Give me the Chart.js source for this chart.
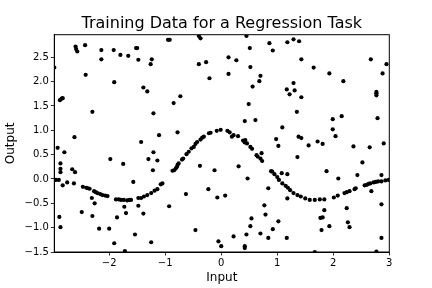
<!DOCTYPE html>
<html>
<head>
<meta charset="utf-8">
<script src="https://cdn.jsdelivr.net/npm/chart.js@4/dist/chart.umd.min.js"></script>
<style>
  html, body { margin: 0; padding: 0; background: #fff; }
  canvas { display: block; }
</style>
</head>
<body>
<canvas id="regression-scatter" width="432" height="288"></canvas>
<script>
// training samples: points that follow the curve, then the scattered noise
const curveX = [-2.95, -2.90, -2.47, -2.41, -2.38, -2.35, -2.27, -2.24, -2.21, -2.16, -2.12, -2.07, -2.03,
  -1.88, -1.83, -1.79, -1.74, -1.68, -1.64, -1.61, -1.48, -1.43, -1.38, -1.32, -1.25, -1.19, -1.14, -1.08, -1.05,
  -0.87, -0.84, -0.81, -0.79, -0.78, -0.76, -0.70, -0.68, -0.62, -0.58, -0.53, -0.49, -0.46, -0.43, -0.37, -0.34,
  -0.31, -0.22, -0.19, -0.08, -0.01, 0.11, 0.15, 0.19, 0.22, 0.30, 0.39, 0.42, 0.43, 0.46, 0.52, 0.55, 0.63,
  0.65, 0.70, 0.73, 0.89, 0.91, 0.95, 1.00, 1.03, 1.09, 1.15, 1.19, 1.23, 1.29, 1.36, 1.42, 1.50, 1.58, 1.67,
  1.76, 1.84, 2.01, 2.08, 2.20, 2.24, 2.29, 2.38, 2.40, 2.56, 2.60, 2.63, 2.66, 2.72, 2.76, 2.80, 2.86, 2.93, 2.99];
const curveY = [-0.02, -0.02, -0.16, -0.18, -0.19, -0.20, -0.25, -0.27, -0.29, -0.31, -0.33, -0.34, -0.35,
  -0.42, -0.42, -0.43, -0.43, -0.44, -0.43, -0.43, -0.39, -0.39, -0.36, -0.33, -0.29, -0.24, -0.21, -0.11, -0.09,
  0.17, 0.18, 0.22, 0.25, 0.29, 0.32, 0.40, 0.42, 0.51, 0.56, 0.63, 0.66, 0.72, 0.76, 0.81, 0.85,
  0.87, 0.94, 0.95, 0.99, 1.01, 0.99, 0.96, 0.87, 0.90, 0.88, 0.79, 0.75, 0.80, 0.73, 0.66, 0.62, 0.49,
  0.46, 0.42, 0.37, 0.16, 0.15, 0.10, 0.04, -0.02, -0.09, -0.14, -0.18, -0.23, -0.29, -0.33, -0.36, -0.40, -0.43, -0.43,
  -0.42, -0.42, -0.38, -0.34, -0.29, -0.27, -0.25, -0.21, -0.19, -0.13, -0.12, -0.10, -0.09, -0.07, -0.06, -0.05, -0.05, -0.03, -0.02];

const noiseX = [-2.98, -2.92, -2.88, -2.85, -2.83, -2.80, -2.89, -2.87, -2.87, -2.87, -2.87, -2.83, -2.75, -2.66,
  -2.61, -2.62, -2.63, -2.60, -2.59, -2.57, -2.49, -2.43, -2.42, -2.30, -2.30, -2.31, -2.26, -2.18, -2.14, -2.14,
  -2.00, -1.98, -1.92, -1.91, -1.91, -1.86, -1.80, -1.75, -1.73, -1.70, -1.72, -1.66, -1.57, -1.54, -1.52, -1.50,
  -1.48, -1.48, -1.43, -1.39, -1.39, -1.32, -1.30, -1.26, -1.24, -1.25, -1.22, -1.21, -1.21, -1.14, -1.11,
  -0.95, -0.92, -0.93, -0.85, -0.78, -0.73, -0.63, -0.46, -0.40, -0.37, -0.40, -0.38, -0.27, -0.23, -0.21, -0.12,
  -0.07, -0.05, 0.00, 0.07, 0.13, 0.13, 0.22, 0.27, 0.31, 0.42, 0.42, 0.42, 0.45, 0.45, 0.47, 0.49, 0.51, 0.52,
  0.52, 0.54, 0.56, 0.61, 0.68, 0.70, 0.70, 0.72, 0.77, 0.79, 0.84, 0.84, 0.86, 0.92, 0.92, 0.98, 1.02, 1.02,
  1.08, 1.09, 1.17, 1.18, 1.17, 1.18, 1.18, 1.22, 1.29, 1.29, 1.31, 1.35, 1.36, 1.38, 1.39, 1.43, 1.43, 1.43,
  1.56, 1.65, 1.67, 1.72, 1.77, 1.81, 1.79, 1.81, 1.84, 1.88, 1.93, 1.93, 1.99, 1.99, 2.04, 2.09, 2.15, 2.18,
  2.24, 2.26, 2.29, 2.36, 2.43, 2.52, 2.65, 2.67, 2.68, 2.77, 2.77, 2.77, 2.79, 2.77, 2.86, 2.86, 2.86, 2.88,
  2.90, 2.95];
const noiseY = [2.29, 0.64, 1.62, 1.65, 1.66, 0.55, -0.78, -0.99, 0.32, 0.21, 0.14, -0.13, -0.07, 0.20,
  0.14, 0.86, -0.09, 2.72, 2.67, 2.62, -0.68, 2.75, 2.14, 1.38, -0.76, -0.39, -0.50, -1.02, 2.65, 2.46,
  -1.02, 0.41, 2.65, 1.99, -1.32, -0.79, 2.55, 0.31, -0.57, -0.70, -1.48, 2.53, -0.06, -1.14, 2.69, 2.69,
  2.45, -0.55, 0.76, -0.71, 1.88, 1.80, 0.41, 2.36, 2.46, -1.30, 0.18, 1.35, 0.55, 0.38, 0.90,
  2.86, 2.86, -0.56, 1.56, 0.96, 1.70, -0.31, -1.05, 2.94, 2.89, 2.36, 0.27, 2.40, -0.21, 2.07, 0.18,
  -0.38, -1.28, -1.38, -0.34, 2.50, 2.16, -1.18, 2.44, 0.26, 1.19, -1.38, -1.42, 2.94, -1.14, 0.01, 1.54, 2.69, 2.30,
  -0.97, -0.81, 1.90, 1.21, 2.01, 2.12, -1.12, 0.53, -0.54, -0.73, -0.19, -1.21, 2.79, 2.64, -1.03, 0.82, 0.68, -0.87,
  0.12, 1.06, 1.84, 2.81, -1.21, 0.10, -0.40, 1.74, 2.87, 1.97, 1.82, 1.38, 0.45, 0.87, 2.83, 0.84, 1.68, 2.46,
  0.69, 2.29, -1.50, 0.77, -0.80, -0.79, -1.05, 0.72, -0.64, 0.16, 2.17, -0.97, 1.23, 1.02, 0.88, 0.01, 1.29, 2.01,
  -0.60, -0.89, -0.99, 0.67, 0.08, 0.34, 0.65, 2.46, -0.25, 1.79, 1.76, 1.72, 1.25, -1.49, 0.08, -0.52, -1.21, 2.17,
  0.73, 2.36];

const xTicks = [-2, -1, 0, 1, 2, 3];
const yTicks = [-1.5, -1.0, -0.5, 0.0, 0.5, 1.0, 1.5, 2.0, 2.5];

const chartTitle = "Training Data for a Regression Task";
const xLabel = "Input";
const yLabel = "Output";

const points = [];
curveX.forEach((x, i) => points.push({ x: x, y: curveY[i] }));
noiseX.forEach((x, i) => points.push({ x: x, y: noiseY[i] }));

const minus = (s) => s.replace("-", "\u2212");

// matplotlib-like title above the axes plus the closed box around the plot
const framePlugin = {
  id: "mplFrame",
  afterDraw(chart) {
    const { ctx, chartArea } = chart;
    ctx.save();
    ctx.strokeStyle = "#000";
    ctx.lineWidth = 1;
    ctx.strokeRect(chartArea.left, chartArea.top, chartArea.right - chartArea.left, chartArea.bottom - chartArea.top);
    ctx.font = "16px 'DejaVu Sans'";
    ctx.fillStyle = "#000";
    ctx.textAlign = "center";
    ctx.textBaseline = "alphabetic";
    ctx.fillText(chartTitle, (chartArea.left + chartArea.right) / 2, chartArea.top - 6.5);
    ctx.restore();
  },
};

const ctx = document.getElementById("regression-scatter").getContext("2d");
new Chart(ctx, {
  type: "scatter",
  data: {
    datasets: [
      {
        data: points,
        backgroundColor: "#000",
        borderWidth: 0,
        pointRadius: 2.1,
        pointHoverRadius: 2.1,
        clip: 0,
      },
    ],
  },
  options: {
    responsive: false,
    animation: false,
    devicePixelRatio: 1,
    layout: { padding: { top: 34.7, right: 42.7, bottom: 0, left: 0 } },
    plugins: {
      legend: { display: false },
      tooltip: { enabled: false },
      title: { display: false },
    },
    scales: {
      x: {
        type: "linear",
        min: -2.98,
        max: 3,
        afterBuildTicks: (s) => { s.ticks = xTicks.map((v) => ({ value: v })); },
        afterFit: (s) => { s.height = 36; },
        border: { display: true, color: "#000", width: 1 },
        grid: { display: true, drawOnChartArea: false, drawTicks: true, tickLength: 3.5, color: "#000", lineWidth: 0.8 },
        ticks: {
          padding: 2,
          color: "#000",
          font: { family: "'DejaVu Sans'", size: 10 },
          maxRotation: 0,
          callback: (v) => minus(String(v)),
        },
        title: {
          display: true,
          text: xLabel,
          color: "#000",
          font: { family: "'DejaVu Sans'", size: 12 },
          padding: { top: 0, bottom: 2.5 },
        },
      },
      y: {
        type: "linear",
        min: -1.5,
        max: 2.965,
        afterBuildTicks: (s) => { s.ticks = yTicks.map((v) => ({ value: v })); },
        afterFit: (s) => { s.width = 54.3; },
        border: { display: true, color: "#000", width: 1 },
        grid: { display: true, drawOnChartArea: false, drawTicks: true, tickLength: 3.5, color: "#000", lineWidth: 0.8 },
        ticks: {
          padding: 2,
          color: "#000",
          font: { family: "'DejaVu Sans'", size: 10 },
          callback: (v) => minus(Number(v).toFixed(1)),
        },
        title: {
          display: true,
          text: yLabel,
          color: "#000",
          font: { family: "'DejaVu Sans'", size: 12 },
          padding: { top: 3.5, bottom: 0 },
        },
      },
    },
  },
  plugins: [framePlugin],
});
</script>
</body>
</html>
